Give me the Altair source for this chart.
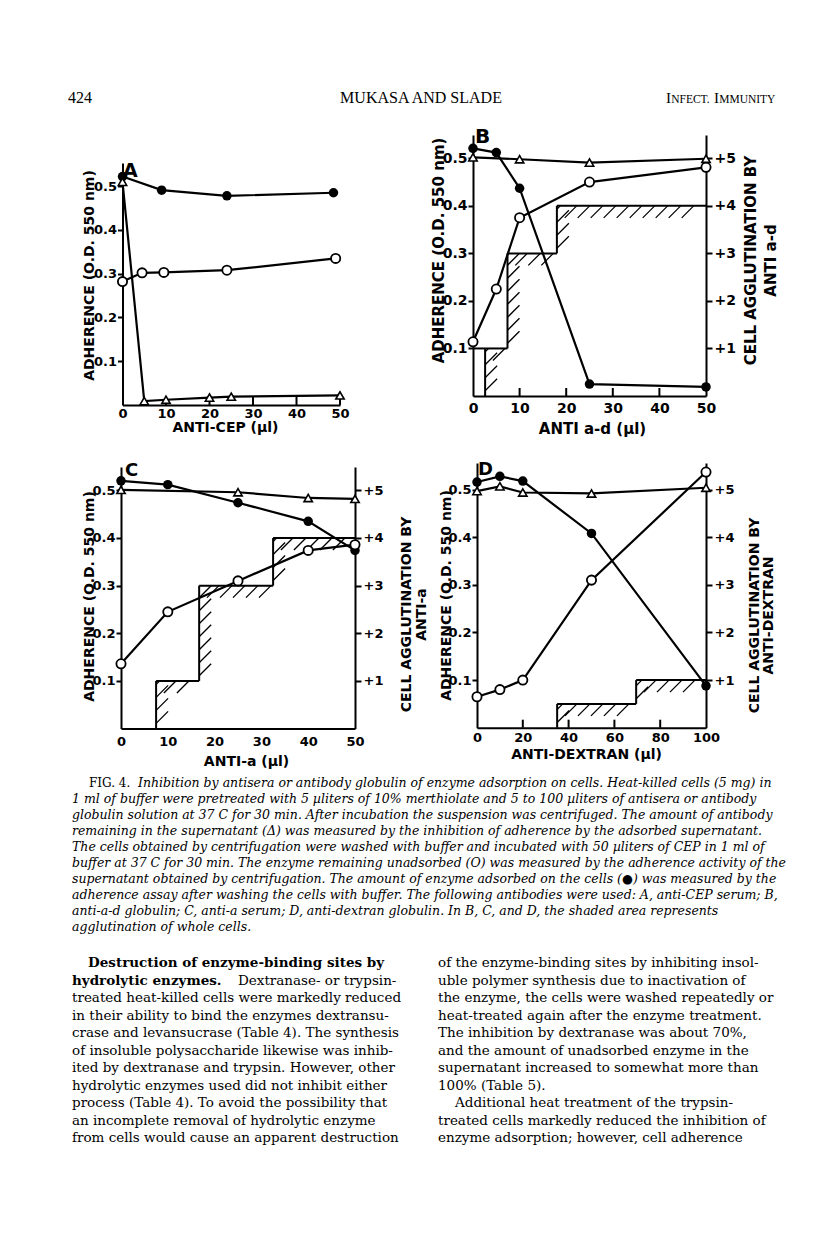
import altair as alt
import pandas as pd

# ---------------- Panel A : anti-CEP serum ----------------
A_filled_x = [0, 9, 24, 48.5]
A_filled_y = [0.522, 0.491, 0.478, 0.485]
A_open_x = [0, 4.5, 9.5, 24, 49]
A_open_y = [0.282, 0.302, 0.303, 0.308, 0.335]
A_tri_x = [0, 5, 10, 20, 25, 50]
A_tri_y = [0.51, 0.009, 0.012, 0.017, 0.019, 0.022]

# ---------------- Panel B : anti a-d globulin ----------------
B_filled_x = [0, 5, 10, 25, 50]
B_filled_y = [0.521, 0.512, 0.437, 0.025, 0.019]
B_open_x = [0, 5, 10, 25, 50]
B_open_y = [0.114, 0.225, 0.375, 0.450, 0.481]
B_tri_x = [0, 10, 25, 50]
B_tri_y = [0.502, 0.498, 0.491, 0.499]
B_agg_x = [2.6, 7.4, 18]
B_agg_level = [1, 3, 4]
B_agg_end = 50
B_agg_lead = [0, 2.6, 1]   # x from, x to, level

# ---------------- Panel C : anti-a serum ----------------
C_filled_x = [0, 10, 25, 40, 50]
C_filled_y = [0.520, 0.512, 0.474, 0.435, 0.374]
C_open_x = [0, 10, 25, 40, 50]
C_open_y = [0.136, 0.245, 0.310, 0.374, 0.386]
C_tri_x = [0, 25, 40, 50]
C_tri_y = [0.501, 0.496, 0.484, 0.482]
C_agg_x = [7.5, 16.7, 32.5]
C_agg_level = [1, 3, 4]
C_agg_end = 50

# ---------------- Panel D : anti-dextran globulin ----------------
D_filled_x = [0, 10, 20, 50, 100]
D_filled_y = [0.516, 0.528, 0.518, 0.408, 0.088]
D_open_x = [0, 10, 20, 50, 100]
D_open_y = [0.065, 0.080, 0.100, 0.310, 0.537]
D_tri_x = [0, 10, 20, 50, 100]
D_tri_y = [0.497, 0.507, 0.494, 0.492, 0.504]
D_agg_x = [35, 69.5]
D_agg_level = [0.5, 1]
D_agg_end = 100

# ---------------- ticks / labels ----------------
x_ticks_50 = [0, 10, 20, 30, 40, 50]
x_ticks_100 = [0, 20, 40, 60, 80, 100]
y_ticks = [0.1, 0.2, 0.3, 0.4, 0.5]
agg_ticks = [1, 2, 3, 4, 5]
A_inner_ticks = [10, 20, 30, 40, 50]
B_inner_ticks = [10, 20, 30, 40]
D_inner_ticks = [20, 40, 60, 80]

y_title = "ADHERENCE (O.D. 550 nm)"
A_x_title = "ANTI-CEP (µl)"
B_x_title = "ANTI  a-d  (µl)"
C_x_title = "ANTI-a (µl)"
D_x_title = "ANTI-DEXTRAN (µl)"
B_right_title = ["CELL AGGLUTINATION BY", "ANTI  a-d"]
C_right_title = ["CELL AGGLUTINATION BY", "ANTI-a"]
D_right_title = ["CELL AGGLUTINATION BY", "ANTI-DEXTRAN"]

header_page = "424"
header_authors = "MUKASA AND SLADE"
header_journal_caps = ["I", "I"]
header_journal_small = ["NFECT.", "MMUNITY"]

cap_first_upright = "FIG. 4."
cap_first_italic = "Inhibition by antisera or antibody globulin of enzyme adsorption on cells. Heat-killed cells (5 mg) in"
cap_lines = [
    "1 ml of buffer were pretreated with 5 µliters of 10% merthiolate and 5 to 100 µliters of antisera or antibody",
    "globulin solution at 37 C for 30 min. After incubation the suspension was centrifuged. The amount of antibody",
    "remaining in the supernatant (Δ) was measured by the inhibition of adherence by the adsorbed supernatant.",
    "The cells obtained by centrifugation were washed with buffer and incubated with 50 µliters of CEP in 1 ml of",
    "buffer at 37 C for 30 min. The enzyme remaining unadsorbed (O) was measured by the adherence activity of the",
    "supernatant obtained by centrifugation. The amount of enzyme adsorbed on the cells (●) was measured by the",
    "adherence assay after washing the cells with buffer. The following antibodies were used: A, anti-CEP serum; B,",
    "anti-a-d globulin; C, anti-a serum; D, anti-dextran globulin. In B, C, and D, the shaded area represents",
    "agglutination of whole cells.",
]
body_left_head1 = "Destruction of enzyme-binding sites by"
body_left_head2 = "hydrolytic enzymes."
body_left_line2_rest = "Dextranase- or trypsin-"
body_left = [
    "treated heat-killed cells were markedly reduced",
    "in their ability to bind the enzymes dextransu-",
    "crase and levansucrase (Table 4). The synthesis",
    "of insoluble polysaccharide likewise was inhib-",
    "ited by dextranase and trypsin. However, other",
    "hydrolytic enzymes used did not inhibit either",
    "process (Table 4). To avoid the possibility that",
    "an incomplete removal of hydrolytic enzyme",
    "from cells would cause an apparent destruction",
]
body_right = [
    "of the enzyme-binding sites by inhibiting insol-",
    "uble polymer synthesis due to inactivation of",
    "the enzyme, the cells were washed repeatedly or",
    "heat-treated again after the enzyme treatment.",
    "The inhibition by dextranase was about 70%,",
    "and the amount of unadsorbed enzyme in the",
    "supernatant increased to somewhat more than",
    "100% (Table 5).",
]
body_right_indent = "Additional heat treatment of the trypsin-"
body_right_tail = [
    "treated cells markedly reduced the inhibition of",
    "enzyme adsorption; however, cell adherence",
]

SANS = "DejaVu Sans"
SERIF = "DejaVu Serif"
HSERIF = "Liberation Serif"
W, H = 800, 1233


def series_frame(fx, fy, ox, oy, tx, ty):
    rows = []
    for name, xs, ys in (("filled", fx, fy), ("open", ox, oy), ("tri", tx, ty)):
        for i, (a, b) in enumerate(zip(xs, ys)):
            rows.append({"series": name, "x": a, "y": b, "k": i})
    return pd.DataFrame(rows)


def agg_frames(agg_x, agg_lvl, agg_end, xpx, ypx, lead=None, d=12.0, gap=13.0):
    bounds = list(agg_x) + [agg_end]
    seg = []
    prev = 0.0
    for i, L in enumerate(agg_lvl):
        seg.append({"x": bounds[i], "x2": bounds[i], "lvl": prev, "lvl2": L})
        seg.append({"x": bounds[i], "x2": bounds[i + 1], "lvl": L, "lvl2": L})
        prev = L
    if lead is not None:
        seg.append({"x": lead[0], "x2": lead[1], "lvl": lead[2], "lvl2": lead[2]})
    hat = []
    prev = 0.0
    for i, L in enumerate(agg_lvl):
        xa, xb = bounds[i], bounds[i + 1]
        hpx = (L - prev) * ypx
        t = gap * 0.4
        while t + 3 < hpx:
            y0 = prev + t / ypx
            y1 = min(L, prev + (t + d) / ypx)
            hat.append({"x": xa, "x2": xa + (y1 - y0) * ypx / xpx, "lvl": y0, "lvl2": y1})
            t += gap
        wpx = (xb - xa) * xpx
        s = gap * 0.6
        while s + d <= wpx:
            x1 = xa + (s + d) / xpx
            y0 = max(0.0, L - d / ypx)
            dd = (L - y0) * ypx
            hat.append({"x": x1 - dd / xpx, "x2": x1, "lvl": y0, "lvl2": L})
            s += gap
        prev = L
    return pd.DataFrame(seg), pd.DataFrame(hat)


def panel(letter, data, xmax, xvals, xr, yr, ymax, lay, xtitle, agg=None, right_title=None, inner=None):
    xs = alt.Scale(domain=[0, xmax], range=xr, nice=False, zero=False)
    ys = alt.Scale(domain=[0, ymax], range=yr, nice=False, zero=False)
    xaxis = alt.Axis(orient="bottom", offset=yr[0] - H, values=xvals, format="d", ticks=False,
                     labelFlush=False, labelOverlap=False,
                     labelFont=SANS, labelFontWeight="bold", labelFontSize=lay["lfs"], labelColor="black",
                     labelPadding=lay["xlp"], domainColor="black", domainWidth=2, grid=False,
                     title=xtitle, titleFont=SANS, titleFontWeight="bold", titleFontSize=lay["tfs"],
                     titleColor="black", titleX=lay["xtx"], titleY=lay["xty"], titleBaseline="top",
                     titleAlign="center")
    yaxis = alt.Axis(orient="left", offset=-xr[0], values=y_ticks, format=".1f", tickSize=5, tickWidth=2,
                     tickColor="black", labelFont=SANS, labelFontWeight="bold", labelFontSize=lay["lfs"],
                     labelColor="black", labelPadding=1, labelFlush=False, labelOverlap=False,
                     domainColor="black", domainWidth=2, grid=False, title=y_title, titleFont=SANS,
                     titleFontWeight="bold", titleFontSize=lay["tfs"], titleColor="black", titleAngle=270,
                     titleBaseline="alphabetic", titleAlign="center", titleX=lay["ytx"], titleY=lay["yty"])
    X = alt.X("x:Q", scale=xs, axis=xaxis)
    Y = alt.Y("y:Q", scale=ys, axis=yaxis)
    base = alt.Chart(data)
    lines = base.mark_line(color="black", strokeWidth=2.2).encode(X, Y, detail="series:N", order="k:Q")
    filled = base.transform_filter("datum.series == 'filled'").mark_point(
        shape="circle", filled=True, color="black", size=90, opacity=1).encode(X, Y)
    opn = base.transform_filter("datum.series == 'open'").mark_point(
        shape="circle", filled=True, fill="white", stroke="black", strokeWidth=1.8, size=85,
        opacity=1).encode(X, Y)
    tri = base.transform_filter("datum.series == 'tri'").mark_point(
        shape="triangle-up", filled=True, fill="white", stroke="black", strokeWidth=1.6, size=70,
        opacity=1).encode(X, Y)
    lab = alt.Chart(pd.DataFrame({"t": [letter]})).mark_text(
        font=SANS, fontWeight="bold", fontSize=lay["lets"], align="left", baseline="alphabetic",
        color="black").encode(text="t:N", x=alt.value(lay["lx"]), y=alt.value(lay["ly"]))
    layers = [lines]
    if inner is not None:
        tk = alt.Chart(pd.DataFrame({"x": inner})).mark_rule(color="black", strokeWidth=2).encode(
            X, y=alt.value(yr[0]), y2=alt.value(yr[0] - 8))
        layers.append(tk)
    layers += [filled, opn, tri, lab]
    main = alt.layer(*layers)
    if agg is None:
        return main
    ax, al, ae, lead = agg
    xpx = (xr[1] - xr[0]) / xmax
    ypx = (yr[0] - yr[1]) / (ymax * 10)
    seg_df, hat_df = agg_frames(ax, al, ae, xpx, ypx, lead=lead)
    raxis = alt.Axis(orient="right", offset=xr[1] - W, values=agg_ticks, labelExpr="'+' + datum.value",
                     tickSize=6, tickWidth=2, tickColor="black", labelFont=SANS, labelFontWeight="bold",
                     labelFontSize=lay["lfs"], labelColor="black", labelPadding=2, labelFlush=False,
                     labelOverlap=False, domainColor="black", domainWidth=2, grid=False, title=right_title,
                     titleFont=SANS, titleFontWeight="bold", titleFontSize=lay["tfs"], titleColor="black",
                     titleAngle=270, titleBaseline="top", titleAlign="center", titleX=lay["rtx"],
                     titleY=lay["rty"], titleLineHeight=lay["rlh"])
    YA = alt.Y("lvl:Q", scale=alt.Scale(domain=[0, ymax * 10], range=yr, nice=False, zero=False), axis=raxis)
    hatch = alt.Chart(hat_df).mark_rule(color="black", strokeWidth=1.3).encode(X, YA, x2="x2:Q", y2="lvl2:Q")
    outline = alt.Chart(seg_df).mark_rule(color="black", strokeWidth=2).encode(X, YA, x2="x2:Q", y2="lvl2:Q")
    aggl = alt.layer(hatch, outline)
    return alt.layer(aggl, main).resolve_scale(y="independent")


layA = dict(lfs=13, tfs=14, xlp=2, xtx=217, xty=15, ytx=-29, yty=267, lx=115, ly=169, lets=19)
layB = dict(lfs=14, tfs=15, xlp=5, xtx=584, xty=25, ytx=-30, yty=242, rtx=37, rty=252, rlh=20,
            lx=467, ly=135, lets=20)
layC = dict(lfs=13, tfs=14, xlp=7, xtx=238, xty=26, ytx=-28, yty=588, rtx=44, rty=606, rlh=15,
            lx=117, ly=468, lets=18)
layD = dict(lfs=13, tfs=14, xlp=4, xtx=578, xty=20, ytx=-27, yty=587, rtx=41, rty=607, rlh=14,
            lx=470, ly=467, lets=18)

pA = panel("A", series_frame(A_filled_x, A_filled_y, A_open_x, A_open_y, A_tri_x, A_tri_y),
           50, x_ticks_50, [114.5, 332], [397, 155], 0.553, layA, A_x_title, inner=A_inner_ticks)
pB = panel("B", series_frame(B_filled_x, B_filled_y, B_open_x, B_open_y, B_tri_x, B_tri_y),
           50, x_ticks_50, [465, 698], [388, 127], 0.549, layB, B_x_title,
           agg=(B_agg_x, B_agg_level, B_agg_end, B_agg_lead), right_title=B_right_title, inner=B_inner_ticks)
pC = panel("C", series_frame(C_filled_x, C_filled_y, C_open_x, C_open_y, C_tri_x, C_tri_y),
           50, x_ticks_50, [113, 347], [720.6, 459], 0.549, layC, C_x_title,
           agg=(C_agg_x, C_agg_level, C_agg_end, None), right_title=C_right_title)
pD = panel("D", series_frame(D_filled_x, D_filled_y, D_open_x, D_open_y, D_tri_x, D_tri_y),
           100, x_ticks_100, [469, 698], [719.7, 455], 0.556, layD, D_x_title,
           agg=(D_agg_x, D_agg_level, D_agg_end, None), right_title=D_right_title, inner=D_inner_ticks)


# ---------------- header ----------------
def one_text(t, x, y, font, size, align="left", style="normal", weight="normal"):
    return alt.Chart(pd.DataFrame({"t": [t]})).mark_text(
        font=font, fontSize=size, align=align, baseline="alphabetic", fontStyle=style, fontWeight=weight,
        color="black").encode(text="t:N", x=alt.value(x), y=alt.value(y))


header = alt.layer(
    one_text(header_page, 60, 95, HSERIF, 16),
    one_text(header_authors, 413, 95, HSERIF, 16, align="center"),
    one_text(header_journal_caps[0], 658, 95, HSERIF, 15),
    one_text(header_journal_small[0], 663.2, 95, HSERIF, 11.5),
    one_text(header_journal_caps[1], 706, 95, HSERIF, 15),
    one_text(header_journal_small[1], 711.2, 95, HSERIF, 11.5),
)

# ---------------- text block ----------------
YS = alt.Scale(domain=[0, H], range=[0, H])


def block(lines, x, y0, dy, size, style="normal", weight="normal"):
    df = pd.DataFrame({"t": lines, "i": list(range(len(lines)))})
    return alt.Chart(df).transform_calculate(py=f"{y0} + {dy} * datum.i").mark_text(
        font=SERIF, fontSize=size, align="left", baseline="alphabetic", fontStyle=style, fontWeight=weight,
        color="black").encode(text="t:N", x=alt.value(x), y=alt.Y("py:Q", scale=YS, axis=None))


CAP = 12.5
BODY = 13.5
text = alt.layer(
    block([cap_first_upright], 81, 779, 16, 12),
    block([cap_first_italic], 130, 779, 16, CAP, style="italic"),
    block(cap_lines, 64, 795, 16, CAP, style="italic"),
    block([body_left_head1], 80, 959, 17.5, 13.5, weight="bold"),
    block([body_left_head2], 64, 976.5, 17.5, 13.5, weight="bold"),
    block([body_left_line2_rest], 230, 976.5, 17.5, BODY),
    block(body_left, 64, 994, 17.5, BODY),
    block(body_right, 430, 959, 17.5, BODY),
    block([body_right_indent], 447, 1099, 17.5, BODY),
    block(body_right_tail, 430, 1116.5, 17.5, BODY),
)

chart = alt.layer(pA, pB, pC, pD, header, text).resolve_scale(
    x="independent", y="independent").properties(
    width=W, height=H, padding=0, autosize=alt.AutoSizeParams(type="none")).configure(
    background="white", view=alt.ViewConfig(stroke=None))

chart.save("out.html", embed_options={"renderer": "svg", "actions": False})
